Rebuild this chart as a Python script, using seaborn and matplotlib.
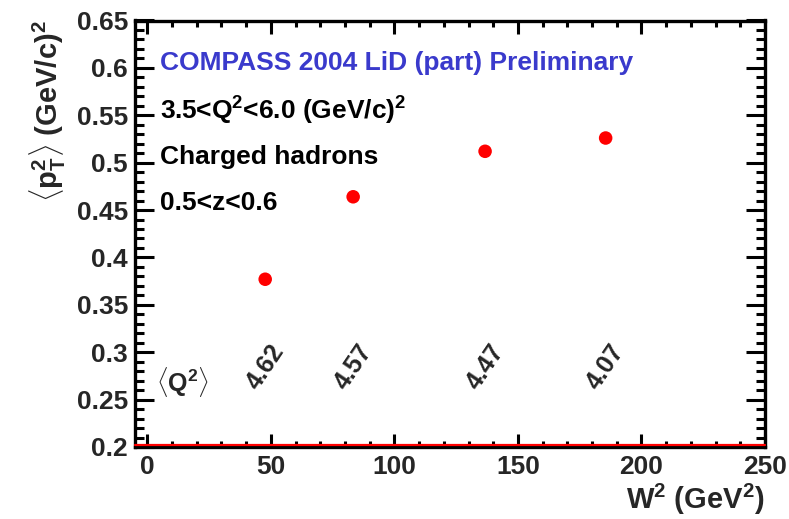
import matplotlib
matplotlib.use("Agg")
import matplotlib.pyplot as plt
import matplotlib.transforms as mtransforms
from matplotlib.ticker import MultipleLocator
import seaborn as sns
import pandas as pd

# data
w2 = [47.7, 83.3, 136.7, 185.5]
pt2 = [0.377, 0.464, 0.512, 0.526]
q2_mean = ["4.62", "4.57", "4.47", "4.07"]
q2_text_y = 0.285
baseline = 0.2
yticks = [0.2, 0.25, 0.3, 0.35, 0.4, 0.45, 0.5, 0.55, 0.6, 0.65]
ytick_labels = ["0.2", "0.25", "0.3", "0.35", "0.4", "0.45", "0.5", "0.55", "0.6", "0.65"]

sns.set_theme(style="ticks")
plt.rcParams["font.family"] = ["Liberation Sans", "DejaVu Sans"]
plt.rcParams["font.weight"] = "bold"
plt.rcParams["mathtext.fontset"] = "custom"
plt.rcParams["mathtext.rm"] = "Liberation Sans:bold"
plt.rcParams["mathtext.it"] = "Liberation Sans:bold"
plt.rcParams["mathtext.bf"] = "Liberation Sans:bold"
plt.rcParams["mathtext.sf"] = "Liberation Sans:bold"
plt.rcParams["mathtext.default"] = "rm"
plt.rcParams["xtick.bottom"] = True
plt.rcParams["ytick.left"] = True

fig = plt.figure(figsize=(7.89, 5.19), dpi=100)
ax = fig.add_axes([135/789, 1-447/519, 630/789, (447-20.5)/519])

df = pd.DataFrame({"w2": w2, "pt2": pt2})
sns.scatterplot(data=df, x="w2", y="pt2", ax=ax, s=95, color="#ff0000",
                edgecolor="none", zorder=6, legend=False)

off = mtransforms.offset_copy(ax.transData, fig=fig, y=2.2, units="dots")
ax.plot([-5, 250], [baseline, baseline], color="#ff0000", lw=1.6,
        transform=off, zorder=5, clip_on=False)

ax.set_xlim(-5, 250)
ax.set_ylim(0.2, 0.65)
ax.xaxis.set_major_locator(MultipleLocator(50))
ax.xaxis.set_minor_locator(MultipleLocator(10))
ax.set_yticks(yticks)
ax.set_yticklabels(ytick_labels)
ax.yaxis.set_minor_locator(MultipleLocator(0.01))

for s in ax.spines.values():
    s.set_visible(True)
    s.set_linewidth(2.4)
    s.set_color("black")

ax.tick_params(axis="both", which="both", direction="in", top=True, right=True,
               bottom=True, left=True, color="black", width=2.2)
ax.tick_params(axis="y", which="major", length=13.5, labelsize=19, pad=5)
ax.tick_params(axis="y", which="minor", length=6.8)
ax.tick_params(axis="x", which="major", length=9.2, labelsize=19, pad=6)
ax.tick_params(axis="x", which="minor", length=4.6)
for lab in ax.get_xticklabels() + ax.get_yticklabels():
    lab.set_fontweight("bold")

ax.set_xlabel(r"W$^{2}$ (GeV$^{2}$)", fontsize=21, fontweight="bold",
              loc="right", labelpad=2)
ax.set_ylabel(r"$\langle$p$_{T}^{2}$$\rangle$ (GeV/c)$^{2}$", fontsize=21,
              fontweight="bold", loc="top", labelpad=6)

fs = 19
ax.text(0.04, 0.901, "COMPASS 2004 LiD (part) Preliminary", transform=ax.transAxes,
        color="#3a3acc", fontsize=fs, fontweight="bold", va="center", ha="left")
ax.text(0.04, 0.789, r"3.5<Q$^{2}$<6.0 (GeV/c)$^{2}$", transform=ax.transAxes,
        color="black", fontsize=fs, fontweight="bold", va="center", ha="left")
ax.text(0.04, 0.679, "Charged hadrons", transform=ax.transAxes,
        color="black", fontsize=fs, fontweight="bold", va="center", ha="left")
ax.text(0.04, 0.573, "0.5<z<0.6", transform=ax.transAxes,
        color="black", fontsize=fs, fontweight="bold", va="center", ha="left")

ax.text(0.075, 0.153, r"$\langle$Q$^{2}$$\rangle$", transform=ax.transAxes,
        fontsize=18, fontweight="bold", va="center", ha="center")
for x, t in zip(w2, q2_mean):
    ax.text(x, q2_text_y, t, rotation=56, fontsize=18, fontweight="bold",
            ha="center", va="center", rotation_mode="anchor")

fig.savefig("out.png", dpi=100)
